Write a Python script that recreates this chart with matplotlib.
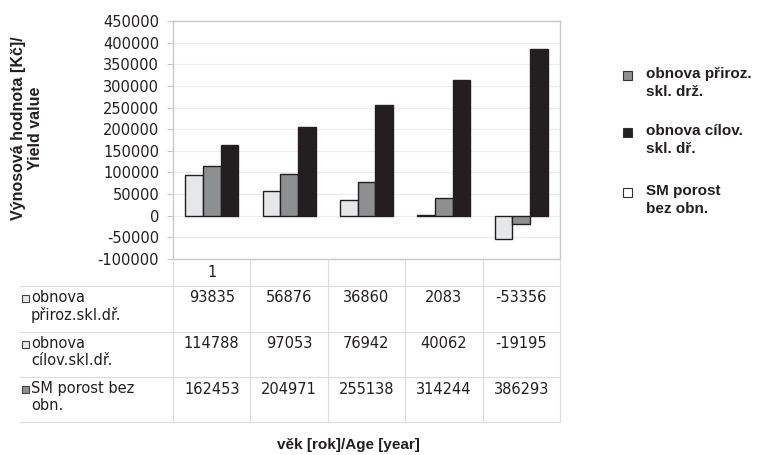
#!/usr/bin/env python3
"""Výnosová hodnota podle věku: sloupcový graf s datovou tabulkou pod osou"""

import matplotlib
matplotlib.use("Agg")
import matplotlib.pyplot as plt
from matplotlib.patches import Rectangle
import numpy as np

plt.rcParams["font.family"] = ["DejaVu Sans"]
plt.rcParams["axes.unicode_minus"] = False

CATEGORIES = ["1", "", "", "", ""]
PRIROZ = [93835, 56876, 36860, 2083, -53356]
CILOV = [114788, 97053, 76942, 40062, -19195]
SM_POROST = [162453, 204971, 255138, 314244, 386293]
TABLE_NAMES = ["obnova\npřiroz.skl.dř.", "obnova\ncílov.skl.dř.", "SM porost bez\nobn."]
LEGEND_NAMES = ["obnova přiroz.\nskl. drž.", "obnova cílov.\nskl. dř.", "SM porost\nbez obn."]
Y_TICKS = list(range(-100000, 450001, 50000))

LIGHT = "#e6e7e9"
GRAY = "#8e8f91"
BLACK = "#231f20"
EDGE = "#231f20"
LINE = "#c8c8c8"
TXT = "#231f20"
BOLD_FONT = ["Liberation Sans", "DejaVu Sans"]

W, H = 757, 455


def fx(px):
    return px / W


def fy(py):
    return 1 - py / H


fig = plt.figure(figsize=(W / 100, H / 100), dpi=100)

# --- graf ---
ax = fig.add_axes([fx(173), fy(259), (560 - 173) / W, (259 - 21) / H])
x = np.arange(len(PRIROZ))
bw = 0.228
series = [PRIROZ, CILOV, SM_POROST]
colors = [LIGHT, GRAY, BLACK]
for k, (vals, c) in enumerate(zip(series, colors)):
    ax.bar(x + (k - 1) * bw, vals, bw, color=c, edgecolor=EDGE, lw=1.0, zorder=3)

ax.set_xlim(-0.5, len(PRIROZ) - 0.5)
ax.set_ylim(Y_TICKS[0], Y_TICKS[-1])
ax.set_yticks(Y_TICKS)
ax.set_yticklabels([str(v) for v in Y_TICKS], fontsize=10.5, color=TXT)
ax.set_xticks([])
ax.yaxis.grid(True, color="#ececec", lw=0.8)
ax.set_axisbelow(True)
for s in ax.spines.values():
    s.set_color(LINE)
    s.set_linewidth(1.0)
ax.tick_params(axis="y", length=4, color=LINE, pad=6)

# --- datová tabulka ---
rows = [0, 27, 73, 118, 163]
tab = fig.add_axes([fx(173), fy(422), (560 - 173) / W, (422 - 259) / H])
tab.set_xlim(-0.5, len(PRIROZ) - 0.5)
tab.set_ylim(rows[-1], 0)
tab.axis("off")
ytr = tab.get_yaxis_transform()
left = (20 - 173) / 387

for xv in np.arange(-0.5, len(PRIROZ), 1.0):
    tab.plot([xv, xv], [0, rows[-1]], color="#dcdcdc", lw=0.8, clip_on=False)
for r in rows[1:]:
    tab.plot([left, 1], [r, r], color="#dcdcdc", lw=0.8, transform=ytr, clip_on=False)

for i, c in enumerate(CATEGORIES):
    tab.text(i, 13.5, c, ha="center", va="center", fontsize=10.5, color=TXT)

key_colors = [LIGHT, LIGHT, GRAY]
for j, (vals, name) in enumerate(zip(series, TABLE_NAMES)):
    top = rows[j + 1]
    for i, v in enumerate(vals):
        tab.text(i, top + 12, f"{v}", ha="center", va="center", fontsize=10.5,
                 color=TXT)
    tab.add_patch(Rectangle(((22 - 173) / 387, top + 9), 7 / 387, 7,
                            facecolor=key_colors[j], edgecolor="#444444", lw=0.8,
                            transform=ytr, clip_on=False))
    tab.text((31 - 173) / 387, top + 4, name, ha="left", va="top", fontsize=10.5,
             color=TXT, linespacing=1.15, transform=ytr)

# --- legenda vpravo ---
leg_colors = [GRAY, BLACK, "white"]
leg_y = [75, 132, 192]
for c, name, yy in zip(leg_colors, LEGEND_NAMES, leg_y):
    fig.patches.append(Rectangle((fx(623), fy(yy + 5)), 9 / W, 9 / H, facecolor=c,
                                 edgecolor="#333333", lw=0.8,
                                 transform=fig.transFigure))
    fig.text(fx(646), fy(yy - 8), name, ha="left", va="top", fontsize=11,
             fontweight="bold", family=BOLD_FONT, color=TXT, linespacing=1.4)

# --- popisky os ---
fig.text(fx(27), fy(128), "Výnosová hodnota [Kč]/\nYield value", rotation=90,
         ha="center", va="center", fontsize=11.5, fontweight="bold",
         family=BOLD_FONT, multialignment="center", color=TXT)
fig.text(fx(348), fy(445), "věk [rok]/Age [year]", ha="center", va="center",
         fontsize=11, fontweight="bold", family=BOLD_FONT, color=TXT)

fig.savefig("out.png", dpi=100)
